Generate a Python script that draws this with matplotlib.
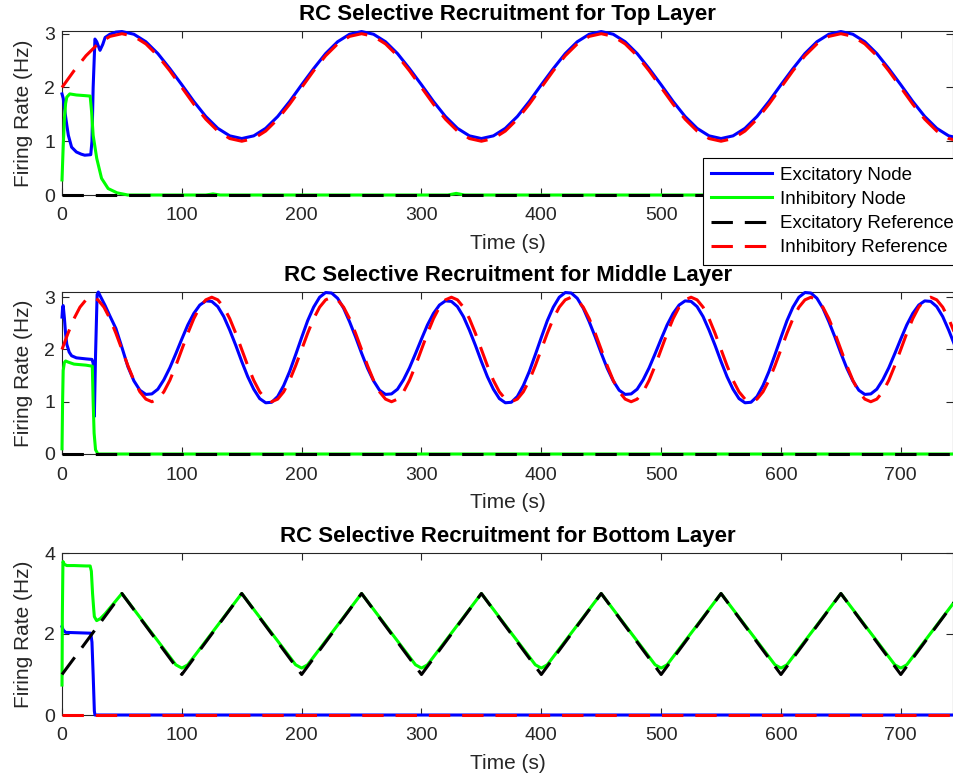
import numpy as np
import matplotlib
matplotlib.use('Agg')
import matplotlib.pyplot as plt

plt.rcParams['font.family'] = ['Liberation Sans', 'DejaVu Sans']

# ---------------- Top layer ----------------
top_ref_t = np.arange(0, 751, 10)
top_inh_ref = [
    2.00, 2.31, 2.59, 2.81, 2.95, 3.00, 2.95, 2.81, 2.59, 2.31, 2.00, 1.69, 1.41, 1.19, 1.05, 1.00, 1.05, 1.19, 1.41, 1.69,
    2.00, 2.31, 2.59, 2.81, 2.95, 3.00, 2.95, 2.81, 2.59, 2.31, 2.00, 1.69, 1.41, 1.19, 1.05, 1.00, 1.05, 1.19, 1.41, 1.69,
    2.00, 2.31, 2.59, 2.81, 2.95, 3.00, 2.95, 2.81, 2.59, 2.31, 2.00, 1.69, 1.41, 1.19, 1.05, 1.00, 1.05, 1.19, 1.41, 1.69,
    2.00, 2.31, 2.59, 2.81, 2.95, 3.00, 2.95, 2.81, 2.59, 2.31, 2.00, 1.69, 1.41, 1.19, 1.05, 1.00]
top_exc_node_t = [0, 1, 2.5, 4, 5.3, 8, 12, 16, 19, 24, 25, 26, 27.5, 29, 31.7, 34, 36, 40, 45] + list(range(50, 751, 10))
top_exc_node = [
    1.88, 1.80, 1.54, 1.30, 1.11, 0.89, 0.80, 0.76, 0.74, 0.75, 1.00, 2.00, 2.90, 2.85, 2.69, 2.80, 2.93, 2.99, 3.03,
    3.04, 2.99, 2.85, 2.63, 2.35, 2.05, 1.74, 1.46, 1.24, 1.10, 1.05, 1.10, 1.24, 1.46, 1.74, 2.05, 2.35, 2.63, 2.85, 2.99,
    3.04, 2.99, 2.85, 2.63, 2.35, 2.05, 1.74, 1.46, 1.24, 1.10, 1.05, 1.10, 1.24, 1.46, 1.74, 2.05, 2.35, 2.63, 2.85, 2.99,
    3.04, 2.99, 2.85, 2.63, 2.35, 2.05, 1.74, 1.46, 1.24, 1.10, 1.05, 1.10, 1.24, 1.46, 1.74, 2.05, 2.35, 2.63, 2.85, 2.99,
    3.04, 2.99, 2.85, 2.63, 2.35, 2.05, 1.74, 1.46, 1.24, 1.10, 1.05]
top_inh_node_t = [0, 1, 2, 3, 4, 6.5, 12, 18, 23.5, 24.7, 26, 29, 33, 38.5, 46, 55, 120, 126, 132, 322, 329, 336, 750]
top_inh_node = [0.28, 0.90, 1.40, 1.70, 1.82, 1.88, 1.86, 1.85, 1.84, 1.55, 1.11, 0.68, 0.31, 0.12, 0.04, 0.0,
                0.0, 0.02, 0.0, 0.0, 0.03, 0.0, 0.0]
top_exc_ref_t = [0, 750]
top_exc_ref = [0, 0]

# ---------------- Middle layer ----------------
mid_ref_t = np.arange(0, 751, 5)
mid_inh_ref = [
    2.00, 2.31, 2.59, 2.81, 2.95, 3.00, 2.95, 2.81, 2.59, 2.31, 2.00, 1.69, 1.41, 1.19, 1.05, 1.00, 1.05, 1.19, 1.41, 1.69,
    2.00, 2.31, 2.59, 2.81, 2.95, 3.00, 2.95, 2.81, 2.59, 2.31, 2.00, 1.69, 1.41, 1.19, 1.05, 1.00, 1.05, 1.19, 1.41, 1.69,
    2.00, 2.31, 2.59, 2.81, 2.95, 3.00, 2.95, 2.81, 2.59, 2.31, 2.00, 1.69, 1.41, 1.19, 1.05, 1.00, 1.05, 1.19, 1.41, 1.69,
    2.00, 2.31, 2.59, 2.81, 2.95, 3.00, 2.95, 2.81, 2.59, 2.31, 2.00, 1.69, 1.41, 1.19, 1.05, 1.00, 1.05, 1.19, 1.41, 1.69,
    2.00, 2.31, 2.59, 2.81, 2.95, 3.00, 2.95, 2.81, 2.59, 2.31, 2.00, 1.69, 1.41, 1.19, 1.05, 1.00, 1.05, 1.19, 1.41, 1.69,
    2.00, 2.31, 2.59, 2.81, 2.95, 3.00, 2.95, 2.81, 2.59, 2.31, 2.00, 1.69, 1.41, 1.19, 1.05, 1.00, 1.05, 1.19, 1.41, 1.69,
    2.00, 2.31, 2.59, 2.81, 2.95, 3.00, 2.95, 2.81, 2.59, 2.31, 2.00, 1.69, 1.41, 1.19, 1.05, 1.00, 1.05, 1.19, 1.41, 1.69,
    2.00, 2.31, 2.59, 2.81, 2.95, 3.00, 2.95, 2.81, 2.59, 2.31, 2.00]
mid_exc_node_t = [0, 0.5, 1, 2, 3, 4, 6, 8, 12, 20, 25, 26, 27, 28, 29.3, 30.3, 32, 36, 40, 45, 50, 55, 60, 65, 70] \
    + list(range(75, 751, 5))
mid_exc_node = [
    2.62, 2.80, 2.84, 2.60, 2.30, 2.10, 1.95, 1.88, 1.84, 1.82, 1.81, 1.74, 0.72, 1.90, 3.05, 3.10, 3.02, 2.84, 2.64,
    2.40, 2.04, 1.67, 1.40, 1.22, 1.14,
    1.15, 1.24, 1.42, 1.65, 1.92, 2.20, 2.47, 2.69, 2.85, 2.93, 2.92, 2.82, 2.63, 2.37, 2.08, 1.77, 1.48, 1.24, 1.06, 0.98,
    0.99, 1.10, 1.31, 1.58, 1.90, 2.23, 2.55, 2.81, 3.00, 3.09, 3.08, 2.98, 2.79, 2.53, 2.24, 1.93, 1.64, 1.40, 1.22, 1.14,
    1.15, 1.24, 1.42, 1.65, 1.92, 2.20, 2.47, 2.69, 2.85, 2.93, 2.92, 2.82, 2.63, 2.37, 2.08, 1.77, 1.48, 1.24, 1.06, 0.98,
    0.99, 1.10, 1.31, 1.58, 1.90, 2.23, 2.55, 2.81, 3.00, 3.09, 3.08, 2.98, 2.79, 2.53, 2.24, 1.93, 1.64, 1.40, 1.22, 1.14,
    1.15, 1.24, 1.42, 1.65, 1.92, 2.20, 2.47, 2.69, 2.85, 2.93, 2.92, 2.82, 2.63, 2.37, 2.08, 1.77, 1.48, 1.24, 1.06, 0.98,
    0.99, 1.10, 1.31, 1.58, 1.90, 2.23, 2.55, 2.81, 3.00, 3.09, 3.08, 2.98, 2.79, 2.53, 2.24, 1.93, 1.64, 1.40, 1.22, 1.14,
    1.15, 1.24, 1.42, 1.65, 1.92, 2.20, 2.47, 2.69, 2.85, 2.93, 2.92, 2.82, 2.63, 2.37, 2.08, 1.77]
mid_inh_node_t = [0, 0.5, 1, 2, 3, 5, 10, 20, 25.3, 26, 26.8, 28, 30, 750]
mid_inh_node = [0.10, 1.00, 1.60, 1.75, 1.78, 1.76, 1.72, 1.70, 1.68, 1.00, 0.40, 0.08, 0.0, 0.0]
mid_exc_ref_t = [0, 750]
mid_exc_ref = [0, 0]

# ---------------- Bottom layer ----------------
bot_exc_ref_t = [0, 50, 100, 150, 200, 250, 300, 350, 400, 450, 500, 550, 600, 650, 700, 750]
bot_exc_ref = [1, 3, 1, 3, 1, 3, 1, 3, 1, 3, 1, 3, 1, 3, 1, 3]
bot_inh_node_t = [0, 0.3, 0.8, 2, 4, 10, 20, 23.5, 24.5, 25.5, 26.5, 27, 28.9, 32, 36, 50,
                  95, 98, 100, 102, 105, 150,
                  195, 198, 200, 202, 205, 250,
                  295, 298, 300, 302, 305, 350,
                  395, 398, 400, 402, 405, 450,
                  495, 498, 500, 502, 505, 550,
                  595, 598, 600, 602, 605, 650,
                  695, 698, 700, 702, 705, 750]
bot_inh_node = [0.74, 2.50, 3.79, 3.72, 3.69, 3.69, 3.68, 3.68, 3.55, 3.00, 2.60, 2.43, 2.33, 2.38, 2.50, 3.00,
                1.24, 1.19, 1.16, 1.19, 1.24, 3.00,
                1.24, 1.19, 1.16, 1.19, 1.24, 3.00,
                1.24, 1.19, 1.16, 1.19, 1.24, 3.00,
                1.24, 1.19, 1.16, 1.19, 1.24, 3.00,
                1.24, 1.19, 1.16, 1.19, 1.24, 3.00,
                1.24, 1.19, 1.16, 1.19, 1.24, 3.00,
                1.24, 1.19, 1.16, 1.19, 1.24, 3.00]
bot_exc_node_t = [0, 1, 3, 24, 25, 26, 27, 27.5, 750]
bot_exc_node = [2.18, 2.10, 2.04, 2.02, 1.80, 1.00, 0.10, 0.0, 0.0]
bot_inh_ref_t = [0, 750]
bot_inh_ref = [0, 0]

labels = ['Excitatory Node', 'Inhibitory Node', 'Excitatory Reference', 'Inhibitory Reference']
titles = ['RC Selective Recruitment for Top Layer',
          'RC Selective Recruitment for Middle Layer',
          'RC Selective Recruitment for Bottom Layer']

W, H = 954, 782
fig = plt.figure(figsize=(W / 100, H / 100), dpi=100)
gray = '#262626'
LW = 2.2
DASH = (7, 3.9)

# axes boxes in pixels: (top, bottom)
boxes = [(31, 195), (292, 454), (553, 715)]
ylims = [(0, 3.05), (0, 3.1), (0, 4)]
yticks = [[0, 1, 2, 3], [0, 1, 2, 3], [0, 2, 4]]

series = [
    (top_exc_node_t, top_exc_node, top_inh_node_t, top_inh_node, top_exc_ref_t, top_exc_ref, top_ref_t, top_inh_ref),
    (mid_exc_node_t, mid_exc_node, mid_inh_node_t, mid_inh_node, mid_exc_ref_t, mid_exc_ref, mid_ref_t, mid_inh_ref),
    (bot_exc_node_t, bot_exc_node, bot_inh_node_t, bot_inh_node, bot_exc_ref_t, bot_exc_ref, bot_inh_ref_t, bot_inh_ref),
]

axes = []
for i, (top, bot) in enumerate(boxes):
    ax = fig.add_axes([62 / W, 1 - bot / H, (953.5 - 62) / W, (bot - top) / H])
    en_t, en, in_t, inn, er_t, er, ir_t, ir = series[i]
    ax.plot(en_t, en, color=(0, 0, 1), lw=LW, zorder=3, clip_on=False, label=labels[0])
    ax.plot(in_t, inn, color=(0, 1, 0), lw=LW, zorder=3, clip_on=False, label=labels[1])
    ax.plot(er_t, er, color='k', lw=LW, dashes=DASH, zorder=3, clip_on=False, label=labels[2])
    ax.plot(ir_t, ir, color=(1, 0, 0), lw=LW, dashes=DASH, zorder=3, clip_on=False, label=labels[3])
    ax.set_xlim(0, 744)
    ax.set_ylim(*ylims[i])
    ax.set_xticks(range(0, 701, 100))
    ax.set_yticks(yticks[i])
    ax.tick_params(direction='in', top=True, right=True, length=5, width=0.8,
                   colors=gray, labelsize=14, labelcolor=gray)
    ax.tick_params(axis='x', pad=9)
    ax.tick_params(axis='y', pad=5)
    for s in ax.spines.values():
        s.set_color(gray)
        s.set_linewidth(0.8)
    ax.set_xlabel('Time (s)', fontsize=15, color=gray, labelpad=7)
    ax.set_ylabel('Firing Rate (Hz)', fontsize=15, color=gray, labelpad=8)
    ax.set_title(titles[i], fontsize=16, fontweight='bold', pad=8)
    axes.append(ax)

handles, labs = axes[0].get_legend_handles_labels()
leg = fig.legend(handles, labs, loc='upper left', bbox_to_anchor=(703 / W, 1 - 158 / H),
                 borderaxespad=0, fontsize=13.5, fancybox=False, framealpha=1, edgecolor='k',
                 handlelength=3.25, handletextpad=0.4, labelspacing=0.38, borderpad=0.45)
leg.get_frame().set_linewidth(0.8)

fig.savefig('out.png', dpi=100)
